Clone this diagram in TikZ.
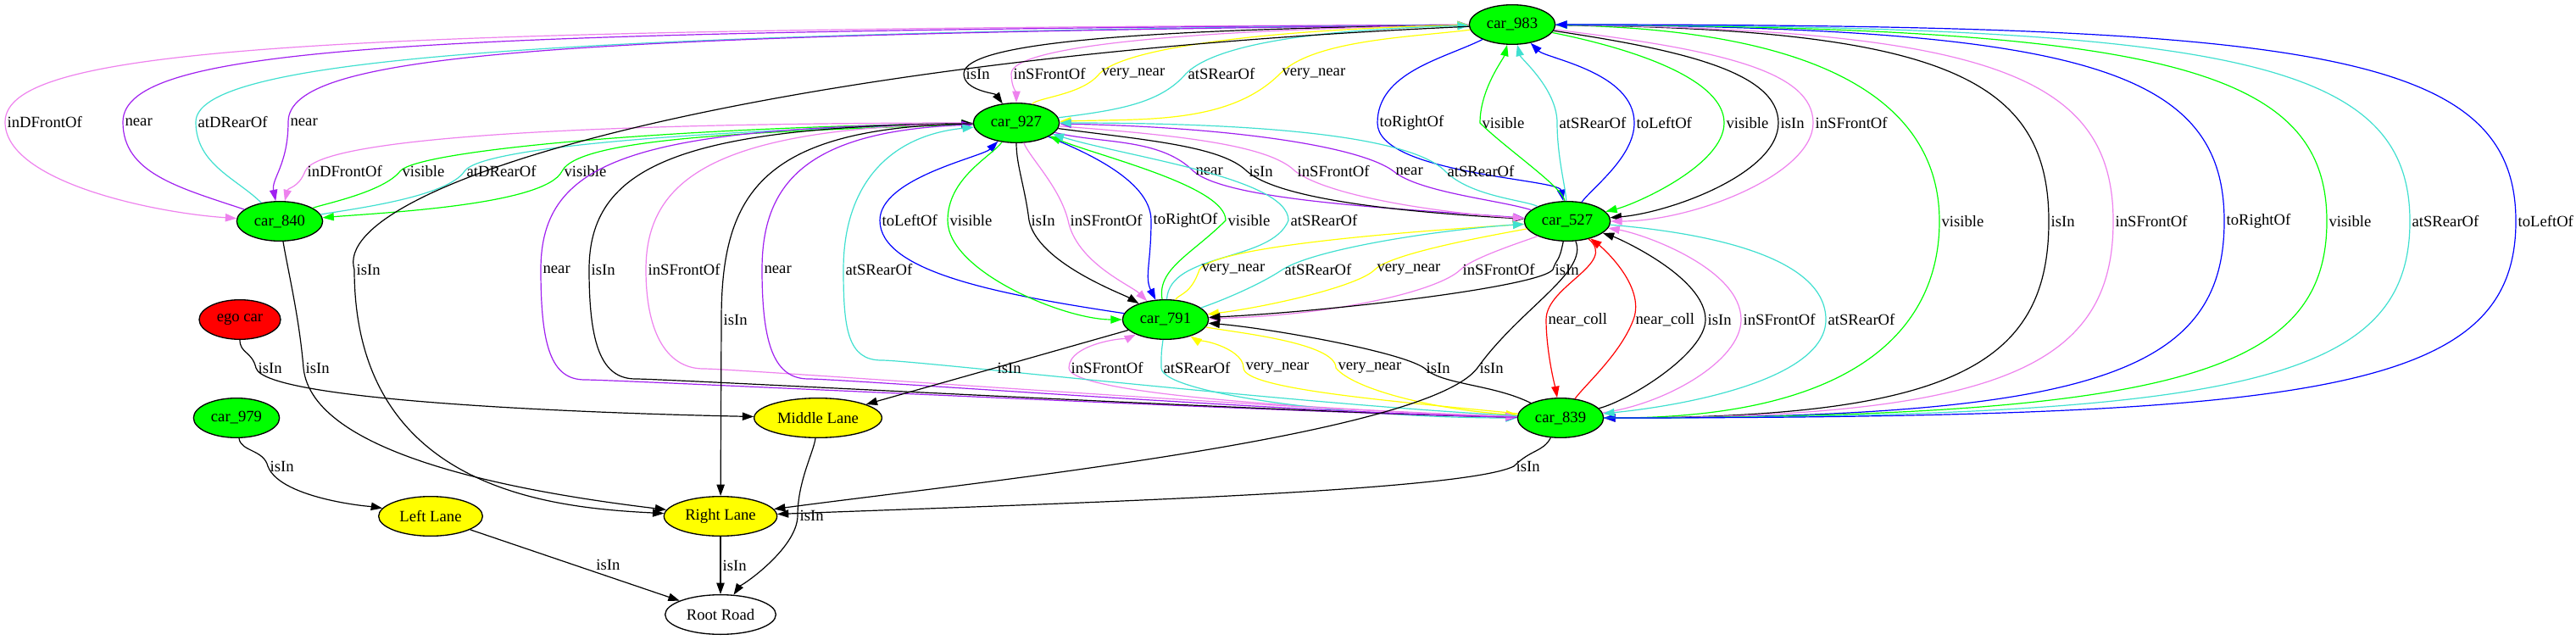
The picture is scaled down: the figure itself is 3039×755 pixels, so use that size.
\documentclass[tikz,border=0pt]{standalone}
\usepackage{fontspec}
\setmainfont{Liberation Serif}
\usetikzlibrary{shapes.geometric,arrows.meta}
\definecolor{gvgreen}{HTML}{00FF00}
\definecolor{gvred}{HTML}{FF0000}
\definecolor{gvyellow}{HTML}{FFFF00}
\definecolor{gvblue}{HTML}{0000FF}
\definecolor{gvviolet}{HTML}{EE82EE}
\definecolor{gvpurple}{HTML}{A020F0}
\definecolor{gvturq}{HTML}{40E0D0}
\tikzset{
  obj/.style = {ellipse, draw, line width=1pt, inner sep=0pt, minimum height=35pt,
    font=\fontsize{14}{16}\selectfont},
  car/.style = {obj, fill=gvgreen, minimum width=76pt},
  lane/.style = {obj, fill=gvyellow},
  rel/.style = {-{Triangle[length=10pt,width=7pt]}, line width=0.9pt},
  lab/.style = {anchor=west, inner sep=1.5pt, text=black, font=\fontsize{14}{16}\selectfont}
}

\begin{document}
\begin{tikzpicture}[x=0.75pt,y=0.75pt]
  \fill[white] (0,0) rectangle (3039,-755);
  \useasboundingbox (0,0) rectangle (3039,-755);
  % cars
  \node[car] (c983) at (1784,-29) {car\_983};
  \node[car] (c927) at (1199,-145) {car\_927};
  \node[car] (c840) at (330,-261) {car\_840};
  \node[car] (c527) at (1849,-261) {car\_527};
  \node[car] (c791) at (1375,-377) {car\_791};
  \node[car] (c839) at (1841,-493) {car\_839};
  \node[obj,fill=gvred,minimum width=72pt] (ego) at (283,-377) {ego car};
  \node[car] (c979) at (279,-493) {car\_979};
  % lanes
  \node[lane,minimum width=113pt] (laneM) at (965,-493) {Middle Lane};
  \node[lane,minimum width=92pt] (laneL) at (508,-609) {Left Lane};
  \node[lane,minimum width=100pt] (laneR) at (850,-609) {Right Lane};
  \node[obj,minimum width=98pt] (road) at (850,-725) {Root Road};
  % car_983 - car_840
  \draw[rel,gvviolet] (c983) .. controls +(-1400,-5) and +(0,90) .. (6,-144) node[lab]{inDFrontOf} .. controls +(0,-70) and +(-150,10) .. (c840);
  \draw[rel,gvpurple] (c840) .. controls +(-120,40) and +(0,-60) .. (145,-144) node[lab]{near} .. controls +(0,90) and +(-1300,-8) .. (c983);
  \draw[rel,gvturq] (c840) .. controls +(-50,50) and +(0,-50) .. (231,-144) node[lab]{atDRearOf} .. controls +(0,70) and +(-1200,-10) .. (c983);
  \draw[rel,gvpurple] (c983) .. controls +(-1150,-12) and +(0,80) .. (340,-144) node[lab]{near} .. controls +(0,-50) and +(-10,50) .. (c840);
  % car_927 - car_840
  \draw[rel,gvviolet] (c927) .. controls +(-500,0) and +(15,40) .. (360,-202) node[lab]{inDFrontOf} .. controls +(-8,-20) and +(10,40) .. (c840);
  \draw[rel,gvgreen] (c840) .. controls +(50,20) and +(-20,-25) .. (472,-202) node[lab]{visible} .. controls +(20,25) and +(-400,-5) .. (c927);
  \draw[rel,gvturq] (c840) .. controls +(90,15) and +(-20,-30) .. (548,-202) node[lab]{atDRearOf} .. controls +(20,30) and +(-350,-8) .. (c927);
  \draw[rel,gvgreen] (c927) .. controls +(-300,-10) and +(20,40) .. (663,-202) node[lab]{visible} .. controls +(-20,-40) and +(120,10) .. (c840);
  % car_983 - car_927
  \draw[rel] (c983) .. controls +(-400,-5) and +(0,40) .. (1137,-87) node[lab]{isIn} .. controls +(0,-20) and +(-25,35) .. (c927);
  \draw[rel,gvviolet] (c983) .. controls +(-350,-5) and +(0,35) .. (1193,-87) node[lab]{inSFrontOf} .. controls +(0,-15) and +(0,35) .. (c927);
  \draw[rel,gvyellow] (c927) .. controls +(25,30) and +(-20,-25) .. (1297,-87) node[lab]{very\_near} .. controls +(40,40) and +(-200,-3) .. (c983);
  \draw[rel,gvturq] (c927) .. controls +(120,15) and +(-30,-35) .. (1399,-87) node[lab]{atSRearOf} .. controls +(40,40) and +(-200,-5) .. (c983);
  \draw[rel,gvyellow] (c983) .. controls +(-120,-15) and +(40,40) .. (1510,-87) node[lab]{very\_near} .. controls +(-60,-60) and +(150,5) .. (c927);
  % car_983 - car_527
  \draw[rel,gvblue] (c983) .. controls +(-80,-40) and +(0,60) .. (1625,-145) node[lab]{toRightOf} .. controls +(0,-60) and +(-10,50) .. (c527);
  \draw[rel,gvgreen] (c527) .. controls +(-5,40) and +(30,-30) .. (1746,-145) node[lab]{visible} .. controls +(0,40) and +(-10,-40) .. (c983);
  \draw[rel,gvturq] (c527) .. controls +(-2,40) and +(0,-40) .. (1837,-145) node[lab]{atSRearOf} .. controls +(0,40) and +(10,-40) .. (c983);
  \draw[rel,gvblue] (c527) .. controls +(30,40) and +(0,-40) .. (1928,-145) node[lab]{toLeftOf} .. controls +(0,60) and +(40,-40) .. (c983);
  \draw[rel,gvgreen] (c983) .. controls +(150,-30) and +(0,50) .. (2034,-145) node[lab]{visible} .. controls +(0,-50) and +(80,20) .. (c527);
  \draw[rel] (c983) .. controls +(200,-30) and +(0,60) .. (2098,-145) node[lab]{isIn} .. controls +(0,-60) and +(120,10) .. (c527);
  \draw[rel,gvviolet] (c983) .. controls +(250,-30) and +(0,60) .. (2139,-145) node[lab]{inSFrontOf} .. controls +(0,-60) and +(150,0) .. (c527);
  % car_983 - car_839
  \draw[rel,gvgreen] (c983) .. controls +(403,-5) and +(0,120) .. (2288,-261) node[lab]{visible} .. controls +(0,-120) and +(358,0) .. (c839);
  \draw[rel] (c983) .. controls +(506,-5) and +(0,170) .. (2417,-261) node[lab]{isIn} .. controls +(0,-170) and +(461,0) .. (c839);
  \draw[rel,gvviolet] (c983) .. controls +(567,-5) and +(0,170) .. (2493,-261) node[lab]{inSFrontOf} .. controls +(0,-170) and +(522,0) .. (c839);
  \draw[rel,gvblue] (c983) .. controls +(672,-3) and +(0,180) .. (2624,-261) node[lab]{toRightOf} .. controls +(0,-180) and +(626,0) .. (c839);
  \draw[rel,gvgreen] (c839) .. controls +(723,0) and +(0,-180) .. (2745,-261) node[lab]{visible} .. controls +(0,180) and +(769,-3) .. (c983);
  \draw[rel,gvturq] (c839) .. controls +(802,0) and +(0,-190) .. (2843,-261) node[lab]{atSRearOf} .. controls +(0,190) and +(847,-2) .. (c983);
  \draw[rel,gvblue] (c839) .. controls +(902,0) and +(0,-200) .. (2968,-261) node[lab]{toLeftOf} .. controls +(0,200) and +(947,0) .. (c983);
  % car_927 - car_527
  \draw[rel,gvpurple] (c927) .. controls +(100,-25) and +(-40,40) .. (1408,-202) node[lab]{near} .. controls +(40,-35) and +(-200,15) .. (c527);
  \draw[rel] (c927) .. controls +(150,-20) and +(-30,30) .. (1471,-202) node[lab]{isIn} .. controls +(40,-35) and +(-180,10) .. (c527);
  \draw[rel,gvviolet] (c927) .. controls +(200,-15) and +(-30,30) .. (1528,-202) node[lab]{inSFrontOf} .. controls +(40,-30) and +(-150,10) .. (c527);
  \draw[rel,gvpurple] (c527) .. controls +(-80,25) and +(30,-25) .. (1644,-202) node[lab]{near} .. controls +(-40,30) and +(250,-5) .. (c927);
  \draw[rel,gvturq] (c527) .. controls +(-50,25) and +(30,-30) .. (1705,-202) node[lab]{atSRearOf} .. controls +(-40,40) and +(300,0) .. (c927);
  % car_927 - car_791
  \draw[rel,gvblue] (c791) .. controls +(-200,30) and +(0,-60) .. (1038,-260) node[lab]{toLeftOf} .. controls +(0,50) and +(-40,-40) .. (c927);
  \draw[rel,gvgreen] (c927) .. controls +(-30,-40) and +(0,50) .. (1118,-260) node[lab]{visible} .. controls +(0,-60) and +(-120,0) .. (c791);
  \draw[rel] (c927) .. controls +(0,-50) and +(-5,40) .. (1214,-260) node[lab]{isIn} .. controls +(10,-50) and +(-50,30) .. (c791);
  \draw[rel,gvviolet] (c927) .. controls +(15,-40) and +(-10,40) .. (1260,-260) node[lab]{inSFrontOf} .. controls +(10,-50) and +(-40,40) .. (c791);
  \draw[rel,gvblue] (c927) .. controls +(70,-30) and +(0,50) .. (1358,-260) node[lab]{toRightOf} .. controls +(0,-50) and +(-25,50) .. (c791);
  \draw[rel,gvgreen] (c791) .. controls +(-10,60) and +(-40,-40) .. (1446,-260) node[lab]{visible} .. controls +(0,40) and +(100,-40) .. (c927);
  \draw[rel,gvturq] (c791) .. controls +(5,80) and +(-20,-50) .. (1520,-260) node[lab]{atSRearOf} .. controls +(0,50) and +(130,-40) .. (c927);
  % car_527 - car_791
  \draw[rel,gvyellow] (c791) .. controls +(15,30) and +(-10,-30) .. (1415,-318) node[lab]{very\_near} .. controls +(20,30) and +(-150,-10) .. (c527);
  \draw[rel,gvturq] (c791) .. controls +(60,20) and +(-30,-20) .. (1513,-318) node[lab]{atSRearOf} .. controls +(40,25) and +(-150,-10) .. (c527);
  \draw[rel,gvyellow] (c527) .. controls +(-80,-15) and +(20,20) .. (1622,-318) node[lab]{very\_near} .. controls +(-20,-20) and +(120,15) .. (c791);
  \draw[rel,gvviolet] (c527) .. controls +(-40,-20) and +(15,15) .. (1723,-318) node[lab]{inSFrontOf} .. controls +(-25,-25) and +(200,5) .. (c791);
  \draw[rel] (c527) .. controls +(-10,-50) and +(5,15) .. (1832,-318) node[lab]{isIn} .. controls +(-15,-20) and +(200,10) .. (c791);
  % car_527 - car_839
  \draw[rel,gvred] (c527) .. controls +(60,-50) and +(0,40) .. (1824,-377) node[lab]{near\_coll} .. controls +(0,-40) and +(-5,30) .. (c839);
  \draw[rel,gvred] (c839) .. controls +(30,40) and +(-15,-40) .. (1927,-377) node[lab]{near\_coll} .. controls +(15,40) and +(40,-30) .. (c527);
  \draw[rel] (c839) .. controls +(80,20) and +(0,-40) .. (2012,-377) node[lab]{isIn} .. controls +(0,50) and +(60,-20) .. (c527);
  \draw[rel,gvviolet] (c839) .. controls +(120,15) and +(0,-50) .. (2054,-377) node[lab]{inSFrontOf} .. controls +(0,60) and +(90,-15) .. (c527);
  \draw[rel,gvturq] (c527) .. controls +(180,-15) and +(0,70) .. (2154,-377) node[lab]{atSRearOf} .. controls +(0,-70) and +(150,15) .. (c839);
  % car_791 - car_839
  \draw[rel,gvviolet] (c839) .. controls +(-300,10) and +(0,-30) .. (1261,-434) node[lab]{inSFrontOf} .. controls +(0,30) and +(-40,-20) .. (c791);
  \draw[rel,gvturq] (c791) .. controls +(-5,-40) and +(0,20) .. (1370,-434) node[lab]{atSRearOf} .. controls +(0,-30) and +(-250,0) .. (c839);
  \draw[rel,gvyellow] (c839) .. controls +(-200,20) and +(0,-25) .. (1467,-434) node[lab]{very\_near} .. controls +(0,25) and +(30,-20) .. (c791);
  \draw[rel,gvyellow] (c791) .. controls +(80,-15) and +(0,30) .. (1576,-434) node[lab]{very\_near} .. controls +(20,-25) and +(-150,10) .. (c839);
  \draw[rel] (c839) .. controls +(-80,40) and +(20,-20) .. (1680,-434) node[lab]{isIn} .. controls +(-30,20) and +(120,-10) .. (c791);
  % car_927 - car_839
  \draw[rel,gvpurple] (c927) .. controls +(-450,-5) and +(0,130) .. (638,-318) node[lab]{near} .. controls +(0,-90) and +(-40,0) .. (690,-448) .. controls +(40,0) and +(-300,5) .. (c839);
  \draw[rel] (c839) .. controls +(-300,5) and +(40,0) .. (750,-447) .. controls +(-40,0) and +(0,-90) .. (695,-318) node[lab]{isIn} .. controls +(0,120) and +(-400,-5) .. (c927);
  \draw[rel,gvviolet] (c927) .. controls +(-350,-5) and +(0,110) .. (762,-318) node[lab]{inSFrontOf} .. controls +(0,-80) and +(-40,0) .. (830,-435) .. controls +(40,0) and +(-300,8) .. (c839);
  \draw[rel,gvpurple] (c839) .. controls +(-300,5) and +(40,0) .. (954,-447) .. controls +(-40,0) and +(0,-90) .. (899,-318) node[lab]{near} .. controls +(0,100) and +(-250,-10) .. (c927);
  \draw[rel,gvturq] (c839) .. controls +(-300,15) and +(40,0) .. (1040,-425) .. controls +(-40,0) and +(0,-70) .. (995,-318) node[lab]{atSRearOf} .. controls +(0,100) and +(-150,-15) .. (c927);
  % lanes
  \draw[rel] (c983) .. controls +(-900,-40) and +(-30,100) .. (418,-318) node[lab]{isIn} .. controls +(0,-260) and +(-200,10) .. (laneR);
  \draw[rel] (c840) .. controls +(10,-60) and +(-5,60) .. (358,-434) node[lab]{isIn} .. controls +(10,-100) and +(-250,30) .. (laneR);
  \draw[rel] (c927) .. controls +(-300,-5) and +(0,150) .. (851,-377) node[lab]{isIn} -- (laneR);
  \draw[rel] (c527) .. controls +(25,-60) and +(50,70) .. (1743,-434) node[lab]{isIn} .. controls +(-60,-80) and +(300,40) .. (laneR);
  \draw[rel] (c839) .. controls +(-20,-40) and +(20,20) .. (1786,-550) node[lab]{isIn} .. controls +(-60,-30) and +(400,15) .. (laneR);
  \draw[rel] (c791) -- (1174,-434) node[lab]{isIn} -- (laneM);
  \draw[rel] (ego) .. controls +(0,-40) and +(-5,20) .. (302,-434) node[lab]{isIn} .. controls +(10,-40) and +(-250,5) .. (laneM);
  \draw[rel] (c979) .. controls +(5,-40) and +(-5,20) .. (316,-550) node[lab]{isIn} .. controls +(15,-40) and +(-60,10) .. (laneL);
  \draw[rel] (laneL) -- node[lab,pos=0.5,xshift=17pt]{isIn} (road);
  \draw[rel] (laneR) -- node[lab]{isIn} (road);
  \draw[rel] (laneM) .. controls +(-5,-40) and +(0,40) .. (941,-608) node[lab]{isIn} .. controls +(0,-40) and +(20,30) .. (road);
\end{tikzpicture}
\end{document}
